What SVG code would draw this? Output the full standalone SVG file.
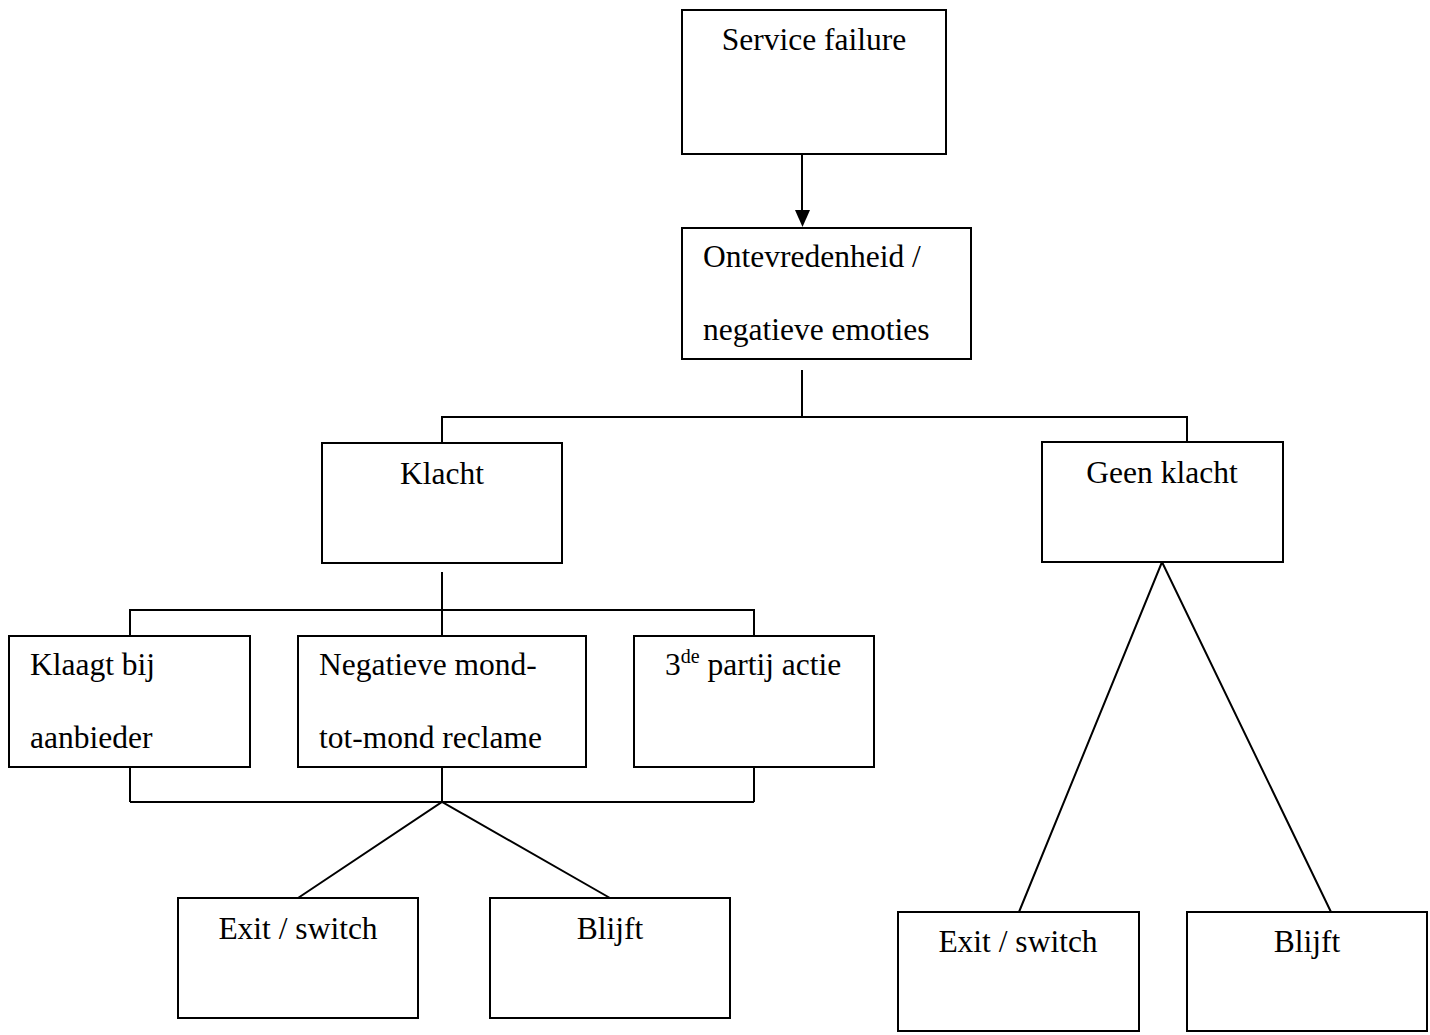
<svg xmlns="http://www.w3.org/2000/svg" width="1430" height="1035" viewBox="0 0 1430 1035">
<style>
.box{fill:#fff;stroke:#000;stroke-width:2}
.t{font-family:"Liberation Serif","Times New Roman",serif;font-size:31.5px;fill:#000}
.c{text-anchor:middle}
.ln{stroke:#000;stroke-width:2;fill:none}
</style>
<rect width="1430" height="1035" fill="#fff"/>
<g id="connectors">
<line class="ln" x1="802" y1="154" x2="802" y2="210"/>
<polygon points="795,210 810,210 802.5,227" fill="#000"/>
<polyline class="ln" points="802,370 802,417"/>
<polyline class="ln" points="442,443 442,417 1187,417 1187,442"/>
<line class="ln" x1="442" y1="572" x2="442" y2="636"/>
<polyline class="ln" points="130,636 130,610 754,610 754,636"/>
<line class="ln" x1="130" y1="755" x2="130" y2="802"/>
<line class="ln" x1="442" y1="755" x2="442" y2="802"/>
<line class="ln" x1="754" y1="755" x2="754" y2="802"/>
<line class="ln" x1="130" y1="802" x2="754" y2="802"/>
<polyline class="ln" points="298,898 442,802 610,898"/>
<polyline class="ln" points="1019,912 1162,562 1331,912"/>
</g>
<g id="n-service-failure">
<rect class="box" x="682" y="10" width="264" height="144"/>
<text class="t c" x="814" y="50">Service failure</text>
</g>
<g id="n-ontevredenheid">
<rect class="box" x="682" y="228" width="289" height="131"/>
<text class="t" x="703" y="267">Ontevredenheid /</text>
<text class="t" x="703" y="340">negatieve emoties</text>
</g>
<g id="n-klacht">
<rect class="box" x="322" y="443" width="240" height="120"/>
<text class="t c" x="442" y="484">Klacht</text>
</g>
<g id="n-geen-klacht">
<rect class="box" x="1042" y="442" width="241" height="120"/>
<text class="t c" x="1162" y="483">Geen klacht</text>
</g>
<g id="n-klaagt">
<rect class="box" x="9" y="636" width="241" height="131"/>
<text class="t" x="30" y="675">Klaagt bij</text>
<text class="t" x="30" y="748">aanbieder</text>
</g>
<g id="n-negatieve">
<rect class="box" x="298" y="636" width="288" height="131"/>
<text class="t" x="319" y="675">Negatieve mond-</text>
<text class="t" x="319" y="748">tot-mond reclame</text>
</g>
<g id="n-derde-partij">
<rect class="box" x="634" y="636" width="240" height="131"/>
<text class="t" x="665" y="675">3<tspan font-size="20" dy="-12">de</tspan><tspan dy="12"> partij actie</tspan></text>
</g>
<g id="n-exit-1">
<rect class="box" x="178" y="898" width="240" height="120"/>
<text class="t c" x="298" y="939">Exit / switch</text>
</g>
<g id="n-blijft-1">
<rect class="box" x="490" y="898" width="240" height="120"/>
<text class="t c" x="610" y="939">Blijft</text>
</g>
<g id="n-exit-2">
<rect class="box" x="898" y="912" width="241" height="119"/>
<text class="t c" x="1018" y="952">Exit / switch</text>
</g>
<g id="n-blijft-2">
<rect class="box" x="1187" y="912" width="240" height="119"/>
<text class="t c" x="1307" y="952">Blijft</text>
</g>
</svg>
